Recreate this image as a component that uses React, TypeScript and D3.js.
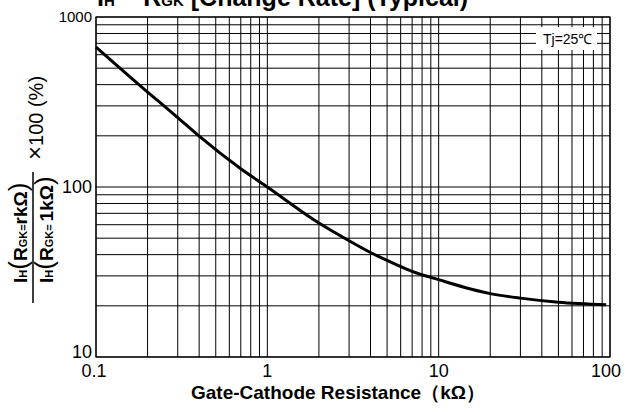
import React, { useEffect, useRef } from "react";
import * as d3 from "d3";

// Gate-cathode resistance (kΩ) and holding-current change rate (%)
const resistance = [0.1, 0.2, 0.3, 0.4, 0.7, 1, 2, 3, 4, 5, 7, 10, 20, 30, 50, 95];
const changeRate = [666, 362, 256, 199, 128, 100, 61.4, 48.3, 41.2, 37.0, 31.9, 28.5, 23.6, 22.2, 21.0, 20.3];

const xTickValues = [0.1, 1, 10, 100];
const xTickLabels = ["0.1", "1", "10", "100"];
const yTickValues = [10, 100, 1000];
const yTickLabels = ["10", "100", "1000"];

const FONT = "'Liberation Sans', Arial, sans-serif";

const App: React.FC = () => {
  const plotRef = useRef<SVGGElement>(null);
  const width = 629;
  const height = 412;
  const margin = { top: 17, right: 19, bottom: 55, left: 96 };
  const w = width - margin.left - margin.right;
  const h = height - margin.top - margin.bottom;

  useEffect(() => {
    const x = d3.scaleLog().domain([0.1, 100]).range([0, w]);
    const y = d3.scaleLog().domain([10, 1000]).range([h, 0]);

    const g = d3.select(plotRef.current);
    g.selectAll("*").remove();

    // grid
    g.append("g").selectAll("line")
      .data(x.ticks())
      .join("line")
      .attr("x1", (d) => x(d)).attr("x2", (d) => x(d))
      .attr("y1", 0).attr("y2", h)
      .attr("stroke", "#000").attr("stroke-width", 1);

    g.append("g").selectAll("line")
      .data(y.ticks())
      .join("line")
      .attr("y1", (d) => y(d)).attr("y2", (d) => y(d))
      .attr("x1", 0).attr("x2", w)
      .attr("stroke", "#000").attr("stroke-width", 1);

    // condition label
    g.append("rect")
      .attr("x", 440).attr("y", 10).attr("width", 61).attr("height", 23)
      .attr("fill", "#fff");
    g.append("text")
      .attr("x", 447).attr("y", 27)
      .attr("font-size", 14).attr("font-family", FONT)
      .text("Tj=25℃");

    // frame
    g.append("rect")
      .attr("width", w).attr("height", h)
      .attr("fill", "none").attr("stroke", "#000").attr("stroke-width", 1.2);

    // curve
    const pts = resistance.map((r, i) => [r, changeRate[i]] as [number, number]);
    const line = d3.line<[number, number]>()
      .x((d) => x(d[0]))
      .y((d) => y(d[1]))
      .curve(d3.curveMonotoneX);
    g.append("path")
      .datum(pts)
      .attr("d", line)
      .attr("fill", "none")
      .attr("stroke", "#000")
      .attr("stroke-width", 3);

    // tick labels
    g.append("g").selectAll("text")
      .data(xTickValues)
      .join("text")
      .attr("x", (d, i) => x(d) + (i === 0 ? -2 : i === 3 ? -4 : 0))
      .attr("y", h + 20)
      .attr("text-anchor", "middle")
      .attr("font-size", 18).attr("font-family", FONT)
      .text((d, i) => xTickLabels[i]);

    g.append("g").selectAll("text")
      .data(yTickValues)
      .join("text")
      .attr("x", -4)
      .attr("y", (d, i) => y(d) + (i === 0 ? 1 : i === 1 ? 6 : 5))
      .attr("text-anchor", "end")
      .attr("font-size", (d, i) => (i === 2 ? 15 : 18))
      .attr("font-family", FONT)
      .text((d, i) => yTickLabels[i]);
  }, []);

  return (
    <svg
      width={width}
      height={height}
      fontFamily={FONT}
      style={{ position: "absolute", left: 0, top: 0, background: "#fff" }}
    >
      <g ref={plotRef} transform={`translate(${margin.left},${margin.top})`} />

      <text x={97} y={6} fontSize={25} fontWeight="bold">
        <tspan>I</tspan>
        <tspan fontSize={15}>H</tspan>
        <tspan> − R</tspan>
        <tspan fontSize={15}>GK</tspan>
        <tspan> [Change Rate] (Typical)</tspan>
      </text>

      <text x={338} y={399} fontSize={19} fontWeight="bold" textAnchor="middle">
        Gate-Cathode Resistance（kΩ）
      </text>

      <g transform="translate(27,283) rotate(-90)">
        <text fontSize={19} fontWeight="bold">
          <tspan>I</tspan>
          <tspan fontSize={11}>H</tspan>
          <tspan fontSize={26} fontWeight="normal">(</tspan>
          <tspan>R</tspan>
          <tspan fontSize={11}>GK=</tspan>
          <tspan>rkΩ</tspan>
          <tspan fontSize={26} fontWeight="normal">)</tspan>
        </text>
      </g>
      <line x1={33} x2={33} y1={172} y2={303} stroke="#000" strokeWidth={1.5} />
      <g transform="translate(53,283) rotate(-90)">
        <text fontSize={19} fontWeight="bold">
          <tspan>I</tspan>
          <tspan fontSize={11}>H</tspan>
          <tspan fontSize={26} fontWeight="normal">(</tspan>
          <tspan>R</tspan>
          <tspan fontSize={11}>GK= </tspan>
          <tspan>1kΩ</tspan>
          <tspan fontSize={26} fontWeight="normal">)</tspan>
        </text>
      </g>
      <g transform="translate(43,160) rotate(-90)">
        <text fontSize={20}>
          <tspan fontSize={24}>×</tspan>
          <tspan>100 (%)</tspan>
        </text>
      </g>
    </svg>
  );
};

export default App;
